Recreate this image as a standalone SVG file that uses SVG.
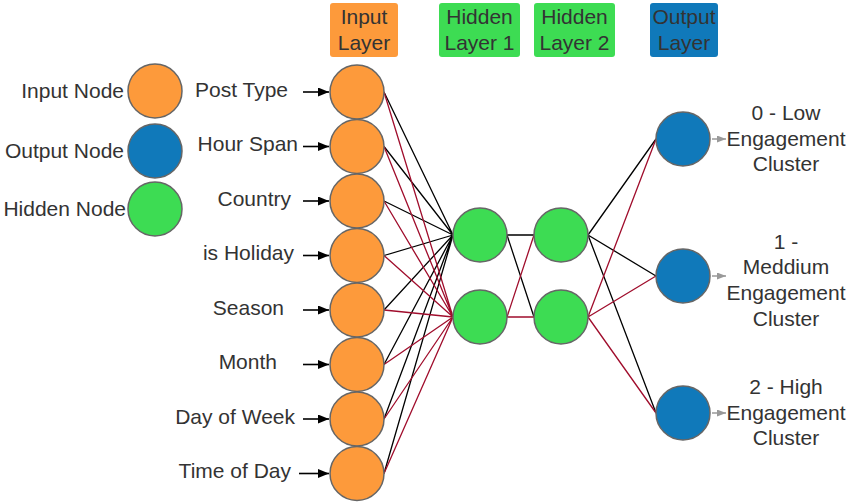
<svg xmlns="http://www.w3.org/2000/svg" width="850" height="503" viewBox="0 0 850 503">
<defs>
<marker id="ah" markerWidth="11" markerHeight="9" refX="11" refY="4.5" orient="auto" markerUnits="userSpaceOnUse"><path d="M0,0 L11,4.5 L0,9 Z" fill="#000"/></marker>
<marker id="ahg" markerWidth="9" markerHeight="7" refX="9" refY="3.5" orient="auto" markerUnits="userSpaceOnUse"><path d="M0,0 L9,3.5 L0,7 Z" fill="#999"/></marker>
</defs>
<style>
text{font-family:"Liberation Sans",Arial,sans-serif;font-size:21px;fill:#333}
.in{fill:#FD9A3B;stroke:#666;stroke-width:1.5}
.out{fill:#1079BA;stroke:#666;stroke-width:1.5}
.hid{fill:#3DDC53;stroke:#666;stroke-width:1.5}
.k{stroke:#000;stroke-width:1.3;fill:none}
.r{stroke:#A00D2C;stroke-width:1.3;fill:none}
.arr{stroke:#000;stroke-width:1.6;marker-end:url(#ah)}
.arrg{stroke:#999;stroke-width:1.5;marker-end:url(#ahg)}
.c{text-anchor:middle}
.e{text-anchor:end}
</style>
<rect width="850" height="503" fill="#fff"/>

<!-- headers -->
<g id="hdr-input"><rect x="330" y="3" width="68" height="54" rx="3" fill="#FD9A3B"/><text class="c" x="364" y="24">Input</text><text class="c" x="364" y="50">Layer</text></g>
<g id="hdr-h1"><rect x="439" y="3" width="81" height="54" rx="3" fill="#3DDC53"/><text class="c" x="479.5" y="24">Hidden</text><text class="c" x="479.5" y="50">Layer 1</text></g>
<g id="hdr-h2"><rect x="534" y="3" width="81" height="54" rx="3" fill="#3DDC53"/><text class="c" x="574.5" y="24">Hidden</text><text class="c" x="574.5" y="50">Layer 2</text></g>
<g id="hdr-out"><rect x="650" y="3" width="68" height="54" rx="3" fill="#1079BA"/><text class="c" x="684" y="24">Output</text><text class="c" x="684" y="50">Layer</text></g>

<!-- legend -->
<g id="legend-input"><circle class="in" cx="155" cy="91" r="27"/><text class="e" x="124" y="98">Input Node</text></g>
<g id="legend-output"><circle class="out" cx="155" cy="151" r="27"/><text class="e" x="124" y="158">Output Node</text></g>
<g id="legend-hidden"><circle class="hid" cx="155" cy="209" r="27"/><text class="e" x="126" y="216">Hidden Node</text></g>

<!-- connectors -->
<g id="connectors">
<g id="in-arrows">
<line class="arr" x1="303" y1="92" x2="329" y2="92"/>
<line class="arr" x1="303" y1="146.5" x2="329" y2="146.5"/>
<line class="arr" x1="303" y1="201" x2="329" y2="201"/>
<line class="arr" x1="303" y1="255.5" x2="329" y2="255.5"/>
<line class="arr" x1="303" y1="310" x2="329" y2="310"/>
<line class="arr" x1="303" y1="364.5" x2="329" y2="364.5"/>
<line class="arr" x1="303" y1="419" x2="329" y2="419"/>
<line class="arr" x1="299" y1="473.5" x2="329" y2="473.5"/>
</g>
<g id="in-h1">
<path class="k" d="M384,92L453,235M384,146.5L453,235M384,201L453,235M384,255.5L453,235M384,310L453,235M384,364.5L453,235M384,419L453,235M384,473.5L453,235"/>
<path class="r" d="M384,92L453,317M384,146.5L453,317M384,201L453,317M384,255.5L453,317M384,310L453,317M384,364.5L453,317M384,419L453,317M384,473.5L453,317"/>
</g>
<g id="h1-h2">
<path class="k" d="M507,235L534,235M507,235L534,317"/>
<path class="r" d="M507,317L534,235M507,317L534,317"/>
</g>
<g id="h2-out">
<path class="k" d="M588,235L656,139M588,235L656,276M588,235L656,413"/>
<path class="r" d="M588,317L656,139M588,317L656,276M588,317L656,413"/>
</g>
<g id="out-arrows">
<line class="arrg" x1="712" y1="139" x2="726" y2="139"/>
<line class="arrg" x1="712" y1="276" x2="726" y2="276"/>
<line class="arrg" x1="712" y1="413" x2="726" y2="413"/>
</g>
</g>

<!-- input nodes -->
<g id="n-post-type"><circle class="in" cx="357" cy="92" r="27"/><text class="e" x="288" y="97">Post Type</text></g>
<g id="n-hour-span"><circle class="in" cx="357" cy="146.5" r="27"/><text class="e" x="298" y="151">Hour Span</text></g>
<g id="n-country"><circle class="in" cx="357" cy="201" r="27"/><text class="e" x="291" y="206">Country</text></g>
<g id="n-is-holiday"><circle class="in" cx="357" cy="255.5" r="27"/><text class="e" x="294" y="260">is Holiday</text></g>
<g id="n-season"><circle class="in" cx="357" cy="310" r="27"/><text class="e" x="284" y="315">Season</text></g>
<g id="n-month"><circle class="in" cx="357" cy="364.5" r="27"/><text class="e" x="277" y="369">Month</text></g>
<g id="n-day-of-week"><circle class="in" cx="357" cy="419" r="27"/><text class="e" x="295" y="424">Day of Week</text></g>
<g id="n-time-of-day"><circle class="in" cx="357" cy="473.5" r="27"/><text class="e" x="291" y="478">Time of Day</text></g>

<!-- hidden nodes -->
<g id="h1-a"><circle class="hid" cx="480" cy="235" r="27"/></g>
<g id="h1-b"><circle class="hid" cx="480" cy="317" r="27"/></g>
<g id="h2-a"><circle class="hid" cx="561" cy="235" r="27"/></g>
<g id="h2-b"><circle class="hid" cx="561" cy="317" r="27"/></g>

<!-- output nodes -->
<g id="o-low"><circle class="out" cx="683" cy="139" r="27"/>
<text class="c" x="786" y="120">0 - Low</text><text class="c" x="786" y="146">Engagement</text><text class="c" x="786" y="171">Cluster</text></g>
<g id="o-med"><circle class="out" cx="683" cy="276" r="27"/>
<text class="c" x="786" y="249">1 -</text><text class="c" x="786" y="274">Meddium</text><text class="c" x="786" y="300">Engagement</text><text class="c" x="786" y="326">Cluster</text></g>
<g id="o-high"><circle class="out" cx="683" cy="413" r="27"/>
<text class="c" x="786" y="394">2 - High</text><text class="c" x="786" y="420">Engagement</text><text class="c" x="786" y="445">Cluster</text></g>
</svg>
